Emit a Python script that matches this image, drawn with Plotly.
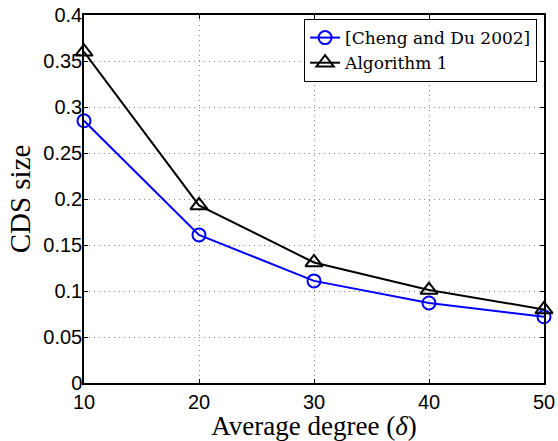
import plotly.graph_objects as go

degrees = [10, 20, 30, 40, 50]
cheng_du = [0.285, 0.161, 0.111, 0.087, 0.072]
algorithm1 = [0.360, 0.193, 0.131, 0.101, 0.080]
y_ticks = [0, 0.05, 0.1, 0.15, 0.2, 0.25, 0.3, 0.35, 0.4]
y_tick_labels = ["0", "0.05", "0.1", "0.15", "0.2", "0.25", "0.3", "0.35", "0.4"]
x_ticks = [10, 20, 30, 40, 50]

serif = "Liberation Serif, DejaVu Serif, serif"
legend_serif = "DejaVu Serif, Liberation Serif, serif"
sans = "Liberation Sans, Arial, sans-serif"

fig = go.Figure()
fig.add_trace(go.Scatter(
    x=degrees, y=cheng_du, mode="lines+markers", name="[Cheng and Du 2002]",
    line=dict(color="#0000ff", width=2),
    marker=dict(symbol="circle-open", size=13, color="#0000ff", line=dict(width=2)),
    cliponaxis=False,
))
fig.add_trace(go.Scatter(
    x=degrees, y=algorithm1, mode="lines+markers", name="Algorithm 1",
    line=dict(color="#000000", width=2),
    marker=dict(symbol="triangle-up-open", size=15, color="#000000", line=dict(width=2)),
    cliponaxis=False,
))

axis_common = dict(
    showline=True, linecolor="black", linewidth=1.5, mirror="ticks",
    ticks="inside", ticklen=4, tickcolor="black", tickwidth=1,
    showgrid=True, gridcolor="#888888", griddash="1px,4px", gridwidth=1,
    zeroline=False, automargin=False,
    tickfont=dict(family=sans, size=20, color="black"),
)

fig.update_xaxes(
    range=[10, 50], tickvals=x_ticks, ticktext=[str(v) for v in x_ticks],
    title=dict(text="Average degree (<i>δ</i>)", font=dict(family=serif, size=27, color="black"), standoff=10),
    **axis_common,
)
fig.update_yaxes(
    range=[0, 0.4], tickvals=y_ticks, ticktext=y_tick_labels,
    ticklabelstandoff=-4,
    title=dict(text="CDS size", font=dict(family=serif, size=29, color="black"), standoff=4),
    **axis_common,
)

fig.update_layout(
    width=558, height=441,
    margin=dict(l=84, r=14, t=15, b=58),
    paper_bgcolor="white", plot_bgcolor="white",
    showlegend=True,
    legend=dict(
        x=0.985, y=0.989, xanchor="right", yanchor="top",
        bgcolor="white", bordercolor="black", borderwidth=1,
        font=dict(family=legend_serif, size=17, color="black"),
        tracegroupgap=0, itemwidth=30,
    ),
)

fig.write_html("out.html")
